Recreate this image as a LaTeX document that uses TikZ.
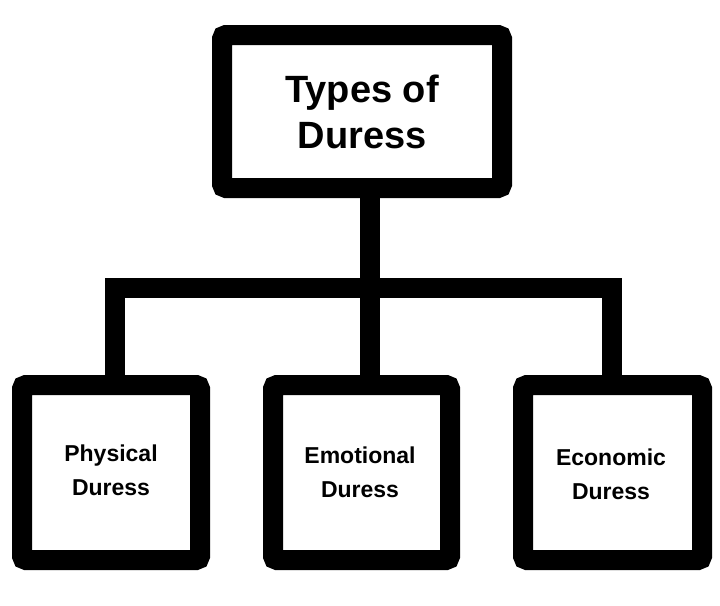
\documentclass[tikz,border=0pt]{standalone}
\usepackage{fontspec}
\setmainfont{Liberation Sans}
\begin{document}
\begin{tikzpicture}[x=1pt,y=-1pt,
  frame/.style={draw=black,line width=20pt,rounded corners=4pt,fill=white},
  wire/.style={draw=black,line width=20pt},
  big/.style={font=\bfseries\fontsize{38}{46}\selectfont,align=center},
  small/.style={font=\bfseries\fontsize{23}{34}\selectfont,align=center}]
\useasboundingbox (0,0) rectangle (720,605);
\coordinate (hl) at (115,288);
\coordinate (hm) at (370,288);
\coordinate (hr) at (612,288);
\draw[wire] (105,288) -- (622,288);
\draw[wire] (hm) -- (370,190);
\draw[wire] (115,278) -- (115,385);
\draw[wire] (370,288) -- (370,385);
\draw[wire] (612,278) -- (612,385);
\draw[frame] (222,35) rectangle (502,188);
\node[big] (top) at (362,112) {Types of\\Duress};
\draw[frame] (22,385) rectangle (200,560);
\draw[frame] (273,385) rectangle (450,560);
\draw[frame] (523,385) rectangle (702,560);
\node[small] (a) at (111,470) {Physical\\Duress};
\node[small] (b) at (360,472) {Emotional\\Duress};
\node[small] (c) at (611,474) {Economic\\Duress};
\end{tikzpicture}
\end{document}
